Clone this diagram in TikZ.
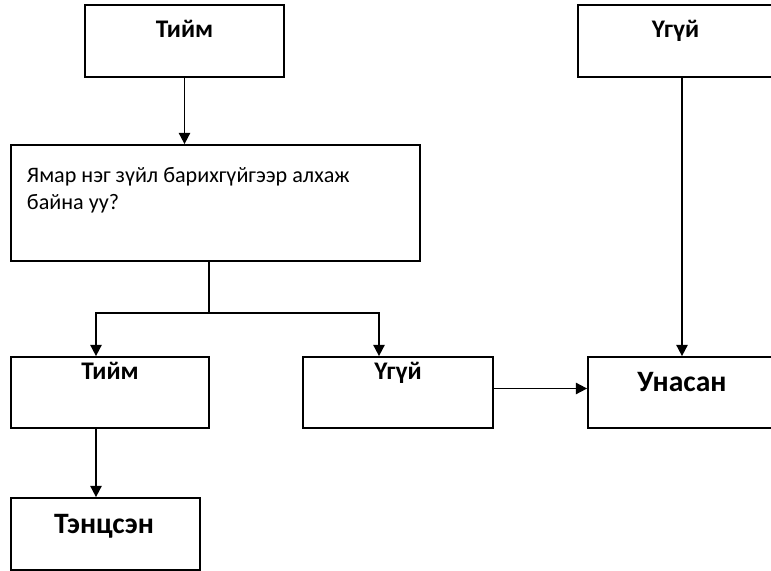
\documentclass[tikz,border=0pt]{standalone}
\usepackage{fontspec}
\setmainfont{Carlito}
\usetikzlibrary{arrows.meta,calc}

\tikzset{
  box/.style={draw, line width=1.3pt, rectangle, inner sep=0pt},
  lbl/.style={font=\fontsize{19}{23}\selectfont\bfseries, anchor=base, inner sep=0pt},
  biglbl/.style={font=\fontsize{22.2}{26}\selectfont\bfseries, anchor=base, inner sep=0pt},
  conn/.style={line width=1.3pt},
  arr/.style={line width=1.3pt, -{Triangle[length=8.5pt,width=8.5pt]}}
}

\begin{document}
\begin{tikzpicture}[x=0.75pt,y=0.75pt,yscale=-1,xscale=1]
\useasboundingbox (0,0) rectangle (771,571);

%Boxes
\node [box, minimum width=149.25pt, minimum height=54pt] (yes1) at (184.5,41) {};
\node [box, minimum width=146.25pt, minimum height=54pt] (no1) at (675.5,41) {};
\node [box, minimum width=306.75pt, minimum height=87pt] (ask) at (215.5,203) {};
\node [box, minimum width=148.5pt, minimum height=53.25pt] (yes2) at (110,392.5) {};
\node [box, minimum width=142.5pt, minimum height=53.25pt] (no2) at (398,392.5) {};
\node [box, minimum width=141pt, minimum height=53.25pt] (fell) at (682,392.5) {};
\node [box, minimum width=141.75pt, minimum height=54pt] (pass) at (105.5,534) {};

%Texts
\node [lbl] (yes1txt) at ($(yes1.north)+(0,33.3)$) {Тийм};
\node [lbl] (no1txt) at ($(no1.north)+(0,33.3)$) {Үгүй};
\node [lbl] (yes2txt) at ($(yes2.north)+(0,23)$) {Тийм};
\node [lbl] (no2txt) at ($(no2.north)+(0,23)$) {Үгүй};
\node [biglbl] (felltxt) at ($(fell.north)+(0,35.7)$) {Унасан};
\node [biglbl] (passtxt) at ($(pass.north)+(-1.5,36.3)$) {Тэнцсэн};
\node [anchor=base west, inner sep=0pt, align=left, font=\fontsize{16.6}{20.5}\selectfont] (asktxt) at (26.7,209.5)
  {Ямар нэг зүйл барихгүйгээр алхаж\\байна уу?};

%Connectors
\coordinate (split) at (209,313);
\coordinate (yes2in) at ($(yes2.north)+(-14,0)$);
\coordinate (no2in) at ($(no2.north)+(-19,0)$);

\draw [arr] (yes1.south) -- (yes1.south |- ask.north);
\draw [conn] (split |- ask.south) -- (split);
\draw [arr] (split) -| (yes2in);
\draw [arr] (split) -| (no2in);
\draw [arr] (yes2in |- yes2.south) -- (yes2in |- pass.north);
\draw [arr] ($(no2.east)+(0,-4)$) -- ($(fell.west)+(0,-4)$);
\draw [arr] (fell.north |- no1.south) -- (fell.north);
\end{tikzpicture}
\end{document}
